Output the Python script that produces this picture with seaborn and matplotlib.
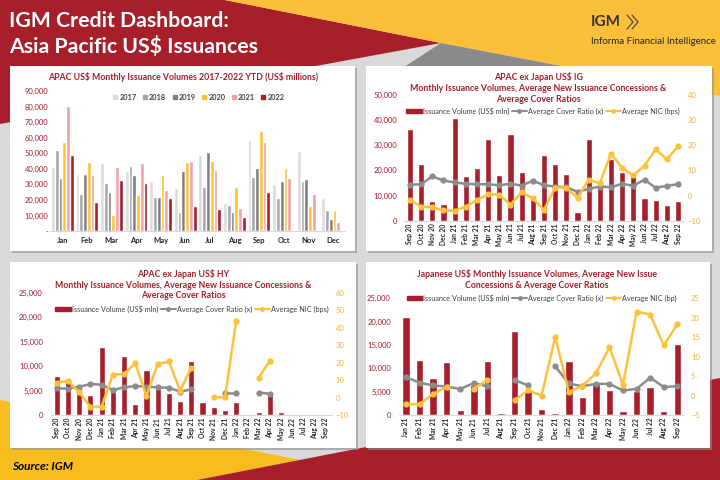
import numpy as np
import pandas as pd
import seaborn as sns
import matplotlib.pyplot as plt
from matplotlib.patches import Polygon, Rectangle
from matplotlib.lines import Line2D
from matplotlib.ticker import FuncFormatter

#%% Data
months = ['Jan', 'Feb', 'Mar', 'Apr', 'May', 'Jun', 'Jul', 'Aug', 'Sep', 'Oct', 'Nov', 'Dec']
years = ['2017', '2018', '2019', '2020', '2021', '2022']
vol_2017 = [41000, 36400, 43500, 38300, 32300, 27900, 48700, 17700, 58700, 30000, 51300, 20900]
vol_2018 = [52200, 24000, 31000, 41500, 21900, 11900, 28300, 16400, 34700, 21100, 32300, 13200]
vol_2019 = [33800, 36800, 25300, 36200, 21900, 38300, 50600, 12300, 40600, 31900, 33200, 7900]
vol_2020 = [57000, 44600, 10000, 23400, 35700, 44100, 44800, 28100, 64300, 40200, 16000, 13200]
vol_2021 = [80500, 35700, 41000, 44000, 26600, 45000, 38900, 14700, 57200, 34300, 23800, 5700]
vol_2022 = [48700, 18500, 33000, 30600, 21300, 16000, 14300, 8700, 24900, np.nan, np.nan, np.nan]

ig_months = ['Sep 20', 'Oct 20', 'Nov 20', 'Dec 20', 'Jan 21', 'Feb 21', 'Mar 21', 'Apr 21',
             'May 21', 'Jun 21', 'Jul 21', 'Aug 21', 'Sep 21', 'Oct 21', 'Nov 21', 'Dec 21',
             'Jan 22', 'Feb 22', 'Mar 22', 'Apr 22', 'May 22', 'Jun 22', 'Jul 22', 'Aug 22', 'Sep 22']
ig_volume = [36400, 22700, 8000, 6700, 41000, 17900, 21100, 32400, 18300, 34500, 19500, 9000,
             26000, 22500, 18500, 3600, 32400, 14000, 24700, 19500, 19000, 9200, 8100, 6300, 8000]
ig_cover = [4.3, 4.5, 7.6, 6.0, 5.2, 4.7, 4.5, 4.5, 4.1, 4.7, 4.0, 5.9, 4.1, 3.6, 3.3, 1.5,
            2.7, 3.6, 3.3, 4.7, 3.9, 6.3, 3.1, 3.9, 4.5]
ig_nic = [-1.7, -4.4, -4.7, -5.9, -6.0, -4.4, -1.7, 0.5, 0.4, -3.6, 1.3, -1.1, -5.7, 3.2, 3.1,
          -0.9, 6.3, 4.9, 16.7, 10.9, 8.0, 11.9, 18.4, 14.4, 19.6]

hy_months = ig_months
hy_volume = [7900, 6800, 6400, 4100, 14000, 5100, 12100, 2200, 9200, 5600, 4400, 2800, 11000,
             2600, 1600, 1000, 2600, 200, 700, 4400, 600, 0, 0, 200, 0]
nan = np.nan
hy_cover = [5.3, 5.1, 6.2, 7.7, 7.4, 4.3, 5.8, 6.6, 6.2, 5.8, 5.6, 3.4, 4.7, nan, nan, 2.6,
            2.6, nan, 2.8, 2.2, nan, nan, nan, nan, nan]
hy_nic = [8.5, 9.5, 3.0, -5.2, -5.2, 13.1, 13.5, 19.6, 0.9, 19.2, 20.7, 3.9, 17.1, nan, 0.1,
          0.1, 44.0, nan, 11.2, 21.1, nan, nan, nan, nan, nan]

jp_months = ['Jan 21', 'Feb 21', 'Mar 21', 'Apr 21', 'May 21', 'Jun 21', 'Jul 21', 'Aug 21',
             'Sep 21', 'Oct 21', 'Nov 21', 'Dec 21', 'Jan 22', 'Feb 22', 'Mar 22', 'Apr 22',
             'May 22', 'Jun 22', 'Jul 22', 'Aug 22', 'Sep 22']
jp_volume = [20900, 11800, 7900, 11300, 1000, 6400, 11500, 400, 17900, 5300, 1350, 500, 11500,
             3900, 6800, 5350, 900, 5200, 6100, 800, 15200]
jp_cover = [4.7, 3.3, 2.6, 2.3, 1.7, 3.2, 2.4, nan, 4.0, 2.6, nan, 7.5, 3.1, 2.4, 3.0, 3.0,
            1.3, 1.7, 4.6, 2.2, 2.4]
jp_nic = [-2.2, -2.2, 0.4, 2.2, nan, 1.8, 3.9, nan, -1.2, 1.3, 0.0, 15.1, 0.9, 2.5, 5.7, 12.4,
          2.8, 21.6, 20.8, 12.9, 18.3]

#%% Style
RED = '#A61F2B'
YELLOW = '#FBBF3A'
LINE_YELLOW = '#FFC13B'
LINE_GREY = '#8C8C8C'
BG_GREY = '#D9D9D9'
year_colors = ['#DCDCDC', '#A6A6A6', '#7F7F7F', '#FFC133', '#F2A1A6', '#A61F2B']

sns.set_theme(style='white')
plt.rcParams['font.family'] = ['Lato', 'DejaVu Sans']

W, H = 720, 480
fig = plt.figure(figsize=(7.2, 4.8), dpi=100)
fig.patch.set_facecolor(BG_GREY)


def box(x0, y0, x1, y1):
    return [x0 / W, 1 - y1 / H, (x1 - x0) / W, (y1 - y0) / H]


def fpt(x, y):
    return (x / W, 1 - y / H)


# background shapes
bg = fig.add_axes([0, 0, 1, 1])
bg.set_xlim(0, W)
bg.set_ylim(H, 0)
bg.axis('off')
bg.add_patch(Polygon([(0, 0), (225, 0), (441, 43), (0, 124)], color=RED, lw=0))
bg.add_patch(Polygon([(225, 0), (720, 0), (720, 96), (441, 43)], color=YELLOW, lw=0))
bg.add_patch(Polygon([(441, 43), (566, 67), (404, 67)], color='#8A8A8A', lw=0))
bg.add_patch(Polygon([(0, 400), (300, 460), (197, 480), (0, 480)], color='#F7BD1E', lw=0))
bg.add_patch(Polygon([(197, 480), (720, 378), (720, 480)], color=RED, lw=0))

panels = [(10, 66, 355, 251), (366, 66, 712, 251), (10, 262, 356, 448), (366, 262, 710, 448)]
for x0, y0, x1, y1 in panels:
    bg.add_patch(Rectangle((x0 + 2, y0 + 2), x1 - x0, y1 - y0, color='#8F8F8F', alpha=0.6, lw=0))
    bg.add_patch(Rectangle((x0, y0), x1 - x0, y1 - y0, color='white', lw=0))

# header / footer text
fig.text(*fpt(9, 21), 'IGM Credit Dashboard:', color='white', fontsize=15.3,
         fontweight='bold', va='center', ha='left')
fig.text(*fpt(9, 46), r'Asia Pacific US\$ Issuances', color='white', fontsize=15.3,
         fontweight='bold', va='center', ha='left')
fig.text(*fpt(591, 22), 'IGM', color='#333333', fontsize=11, fontweight='bold',
         va='center', ha='left')
for dx in [0, 5]:
    bg.plot([627 + dx, 633 + dx, 627 + dx], [15, 22, 29], color='#4D4D4D', lw=0.9)
fig.text(*fpt(591, 41), 'Informa Financial Intelligence', color='#262626', fontsize=7,
         va='center', ha='left')
fig.text(*fpt(12, 466), 'Source: IGM', color='black', fontsize=8.5, fontweight='bold',
         fontstyle='italic', va='center', ha='left')


def style_axis(ax):
    for side in ['top', 'left', 'right']:
        ax.spines[side].set_visible(False)
    ax.spines['bottom'].set_color(BG_GREY)
    ax.spines['bottom'].set_linewidth(0.8)
    ax.set_xlabel('')
    ax.set_ylabel('')
    ax.grid(False)


def chart_title(lines, cx, ys):
    for txt, y in zip(lines, ys):
        fig.text(*fpt(cx, y), txt, color=RED, fontsize=6.3, fontweight='bold',
                 ha='center', va='center')


#%% Chart 1: monthly volumes by year
rows = []
for yr, vals in zip(years, [vol_2017, vol_2018, vol_2019, vol_2020, vol_2021, vol_2022]):
    for m, v in zip(months, vals):
        rows.append({'month': m, 'year': yr, 'value': v})
df_years = pd.DataFrame(rows)

ax1 = fig.add_axes(box(50, 91, 345, 231))
ax1.set_facecolor('none')
sns.barplot(data=df_years, x='month', y='value', hue='year', hue_order=years,
            palette=year_colors, width=0.92, saturation=1, errorbar=None,
            legend=False, ax=ax1)
ax1.set_ylim(0, 90000)
ax1.set_yticks(np.arange(0, 90001, 10000))
ax1.yaxis.set_major_formatter(FuncFormatter(lambda v, p: '-' if v == 0 else f'{v:,.0f}'))
ax1.tick_params(axis='y', length=0, labelsize=5.5, labelcolor=RED, pad=1)
ax1.tick_params(axis='x', length=0, labelsize=5.5, labelcolor='#262626', pad=4)
for lbl in ax1.get_xticklabels():
    lbl.set_fontweight('bold')
style_axis(ax1)
chart_title([r'APAC US\$ Monthly Issuance Volumes 2017-2022 YTD (US\$ millions)'], 183, [77.5])
year_handles = [Line2D([], [], ls='', marker='s', markersize=3.5, color=c) for c in year_colors]
fig.legend(year_handles, years, loc='center', bbox_to_anchor=fpt(199, 97.5), ncol=6,
           frameon=False, handlelength=0.5, handletextpad=0.3,
           columnspacing=0.9, labelcolor='#404040', prop={'weight': 'bold', 'size': 5.3})


#%% Combo charts
def segments(values):
    s = pd.Series(values, dtype=float)
    frame = pd.DataFrame({'x': np.arange(len(s)), 'y': s, 'seg': s.isna().cumsum()})
    return frame.dropna()


def combo_chart(rect, labels, volume, cover, nic, vol_max, vol_step, r_lo, r_hi, r_step,
                lpad, rpad):
    ax = fig.add_axes(box(*rect))
    ax.set_facecolor('none')
    frame = pd.DataFrame({'month': labels, 'volume': volume})
    sns.barplot(data=frame, x='month', y='volume', color=RED, width=0.55, saturation=1,
                errorbar=None, ax=ax)
    ax2 = ax.twinx()
    for values, col in [(cover, LINE_GREY), (nic, LINE_YELLOW)]:
        sns.lineplot(data=segments(values), x='x', y='y', units='seg', estimator=None,
                     color=col, lw=1.8, marker='o', markersize=4.5, markeredgewidth=0,
                     ax=ax2)
    n = len(labels)
    ax.set_xlim(-0.5, n - 0.5)
    ax.set_ylim(0, vol_max)
    ax.set_yticks(np.arange(0, vol_max + 1, vol_step))
    ax.yaxis.set_major_formatter(FuncFormatter(lambda v, p: f'{v:,.0f}'))
    ax2.set_ylim(r_lo, r_hi)
    ax2.set_yticks(np.arange(r_lo, r_hi + 0.1, r_step))
    ax.tick_params(axis='y', length=0, labelsize=5.5, labelcolor=RED, pad=lpad)
    ax.tick_params(axis='x', length=0, labelsize=4.8, labelcolor='#262626', pad=2,
                   labelrotation=90)
    for lbl in ax.get_xticklabels():
        lbl.set_fontweight('bold')
    ax2.tick_params(axis='y', length=0, labelsize=5.5, labelcolor='#F5B335', pad=rpad)
    style_axis(ax)
    style_axis(ax2)
    ax2.spines['bottom'].set_visible(False)
    return ax, ax2


def combo_legend(cx, cy, nic_label):
    handles = [Rectangle((0, 0), 1, 1, color=RED),
               Line2D([], [], color=LINE_GREY, lw=1.5, marker='o', markersize=2.5),
               Line2D([], [], color=LINE_YELLOW, lw=1.5, marker='o', markersize=2.5)]
    names = [r'Issuance Volume (US\$ mln)', 'Average Cover Ratio (x)', nic_label]
    fig.legend(handles, names, loc='center', bbox_to_anchor=fpt(cx, cy), ncol=3,
               frameon=False, fontsize=5.2, handlelength=2.1, handleheight=0.5,
               handletextpad=0.15, columnspacing=0.35, labelcolor='#404040')


combo_chart((404.4, 95, 683.6, 220.7), ig_months, ig_volume, ig_cover, ig_nic,
            50000, 10000, -10, 40, 10, 5, 3)
chart_title([r'APAC ex Japan US\$ IG',
             'Monthly Issuance Volumes, Average New Issuance Concessions &',
             'Average Cover Ratios'], 538, [77.5, 88.5, 99])
combo_legend(543, 111, 'Average NIC (bps)')

combo_chart((51.1, 292.7, 331.6, 415), hy_months, hy_volume, hy_cover, hy_nic,
            25000, 5000, -10, 60, 10, 6, 3)
chart_title([r'APAC ex Japan US\$ HY',
             'Monthly Issuance Volumes, Average New Issuance Concessions &',
             'Average Cover Ratios'], 183, [274.3, 285, 295.7])
combo_legend(192, 309, 'Average NIC (bps)')

combo_chart((399.2, 298.3, 684.1, 415), jp_months, jp_volume, jp_cover, jp_nic,
            25000, 5000, -5, 25, 5, 6, 5)
chart_title([r'Japanese US\$ Monthly Issuance Volumes, Average New Issue',
             'Concessions & Average Cover Ratios'], 537, [274.3, 285.3])
combo_legend(542, 297.7, 'Average NIC (bp)')

fig.savefig('out.png', dpi=100, facecolor=fig.get_facecolor())
